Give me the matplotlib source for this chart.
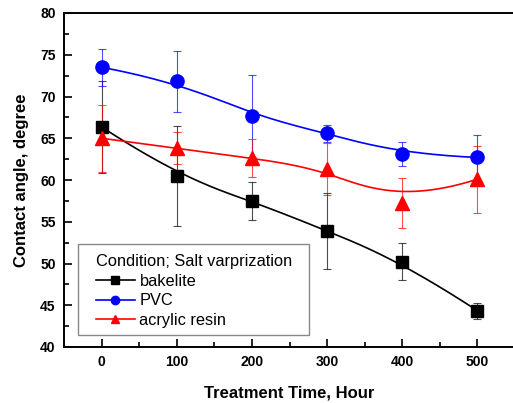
import numpy as np
import matplotlib
matplotlib.use("Agg")
import matplotlib.pyplot as plt
from matplotlib.ticker import MultipleLocator
from matplotlib.patches import Rectangle

plt.rcParams['font.family'] = ['Liberation Sans', 'DejaVu Sans']

hours = [0, 100, 200, 300, 400, 500]
bakelite = [66.35, 60.5, 57.5, 53.9, 50.2, 44.35]
bakelite_err = [5.5, 6.0, 2.25, 4.5, 2.2, 0.95]
pvc = [73.5, 71.8, 67.7, 65.6, 63.1, 62.7]
pvc_err = [2.2, 3.7, 4.9, 1.0, 1.4, 2.7]
acrylic = [65.0, 63.8, 62.6, 61.3, 57.2, 60.1]
acrylic_err = [4.0, 1.9, 2.3, 3.1, 3.0, 4.0]

legend_title = "Condition; Salt varprization"
names = ["bakelite", "PVC", "acrylic resin"]
colors = ["black", "#0000ff", "#ff0000"]
markers = ["s", "o", "^"]


def bspline(xs, ys, k=3, n=300):
    xs = np.asarray(xs, float)
    ys = np.asarray(ys, float)
    m = len(xs)
    inner = np.arange(1, m - k)
    t = np.concatenate([np.zeros(k + 1), inner, np.full(k + 1, m - k)]).astype(float)
    u = np.linspace(0, m - k, n)
    u[-1] -= 1e-9

    def basis(i, p, uu):
        if p == 0:
            return np.where((t[i] <= uu) & (uu < t[i + 1]), 1.0, 0.0)
        a = 0.0
        b = 0.0
        if t[i + p] != t[i]:
            a = (uu - t[i]) / (t[i + p] - t[i]) * basis(i, p - 1, uu)
        if t[i + p + 1] != t[i + 1]:
            b = (t[i + p + 1] - uu) / (t[i + p + 1] - t[i + 1]) * basis(i + 1, p - 1, uu)
        return a + b

    B = np.array([basis(i, k, u) for i in range(m)])
    return xs @ B, ys @ B


fig = plt.figure(figsize=(5.13, 4.03), dpi=100)
ax = fig.add_axes([64 / 513, 1 - 347 / 403, (515 - 64) / 513, (347 - 13) / 403])

sizes = {"s": 8.5, "o": 9.5, "^": 10}
series = [(bakelite, bakelite_err), (pvc, pvc_err), (acrylic, acrylic_err)]
for (vals, errs), name, c, mk in zip(series, names, colors, markers):
    ax.errorbar(hours, vals, yerr=errs, fmt='none', ecolor=c, elinewidth=0.8,
                capsize=3.0, capthick=0.8, alpha=0.7, zorder=2)
    bx, by = bspline(hours, vals)
    ax.plot(bx, by, color=c, lw=1.2, zorder=3)
    ax.plot(hours, vals, linestyle='none', marker=mk, color=c, ms=sizes[mk], zorder=4)
    ax.plot([], [], color=c, marker=mk, ms=6, lw=1.2, label=name)

ax.set_xlim(-50, 550)
ax.set_ylim(40, 80)
ax.xaxis.set_major_locator(MultipleLocator(100))
ax.xaxis.set_minor_locator(MultipleLocator(50))
ax.yaxis.set_major_locator(MultipleLocator(5))
ax.yaxis.set_minor_locator(MultipleLocator(2.5))
ax.tick_params(which='both', direction='in', top=False, right=False, width=1.2)
ax.tick_params(which='major', length=6, labelsize=10, pad=6)
ax.tick_params(which='minor', length=3.5)
for lab in ax.get_xticklabels() + ax.get_yticklabels():
    lab.set_fontweight('bold')
for s in ax.spines.values():
    s.set_linewidth(1.4)

ax.set_xlabel("Treatment Time, Hour", fontsize=12, fontweight='bold', labelpad=12)
ax.set_ylabel("Contact angle, degree", fontsize=12, fontweight='bold', labelpad=8)

# legend frame (drawn separately for wider horizontal padding)
ax.add_patch(Rectangle((0.031, 0.036), 0.512, 0.272, transform=ax.transAxes,
                       facecolor='white', edgecolor='#888888', lw=1.0, zorder=5))
leg = ax.legend(title=legend_title, loc='upper left', bbox_to_anchor=(0.071, 0.278),
                fontsize=11.8, title_fontsize=11.8, frameon=False,
                handlelength=2.35, handletextpad=0.3,
                labelspacing=0.28, borderpad=0, alignment='left',
                borderaxespad=0)
leg.set_zorder(6)

fig.savefig("out.png", dpi=100)
